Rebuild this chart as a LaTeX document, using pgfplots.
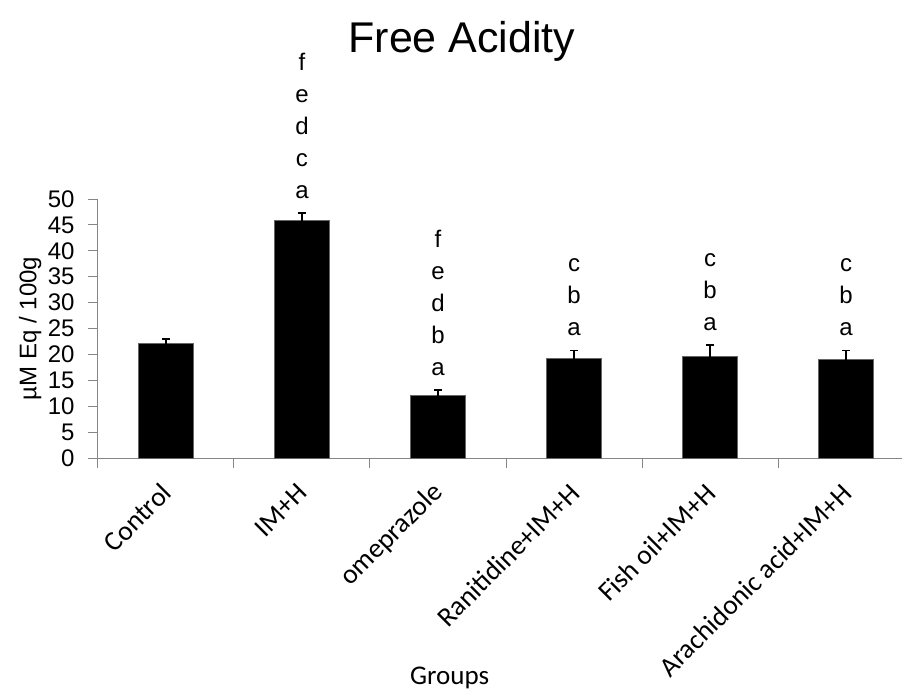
\documentclass[border=0pt]{standalone}
\usepackage{fontspec}
\setmainfont{Liberation Sans}
\newfontfamily\carlito{Carlito}
\usepackage{pgfplots}
\pgfplotsset{compat=1.18}
\definecolor{axgray}{HTML}{868686}
\protected\def\Lim{f\\e\\d\\c\\a}
\protected\def\Lom{f\\e\\d\\b\\a}
\protected\def\Lcba{c\\b\\a}
\begin{document}
\begin{tikzpicture}
\useasboundingbox (-98pt,-233pt) rectangle (804pt,458pt);
\begin{axis}[
  at={(0,0)}, anchor=south west, scale only axis,
  width=816pt, height=259pt,
  xmin=-0.5, xmax=5.5, ymin=0, ymax=50,
  axis lines*=left,
  axis line style={axgray, line width=1pt},
  tick align=outside, major tick length=10pt,
  tick style={axgray, line width=1pt},
  xtick={-0.5,0.5,...,5.5},
  x tick label as interval,
  xticklabels={Control,IM+H,omeprazole,Ranitidine+IM+H,Fish oil+IM+H,Arachidonic acid+IM+H},
  xticklabel style={xshift=3pt, yshift=-18pt, rotate=45, anchor=east, font=\carlito\fontsize{27.5}{30}\selectfont},
  ytick={0,5,...,50},
  yticklabel style={xshift=-10pt, font=\fontsize{24}{28}\selectfont},
  /pgf/number format/assume math mode=true,
  ylabel={µM Eq / 100g},
  every axis y label/.style={at={(axis description cs:-0.0754,0.5)}, rotate=90, anchor=base, font=\fontsize{24}{28}\selectfont},
  xlabel={Groups},
  every axis x label/.style={at={(axis description cs:0.431,0)}, anchor=base, yshift=-226pt, font=\carlito\fontsize{27}{30}\selectfont},
  title={Free Acidity},
  every axis title/.style={at={(axis description cs:0.446,1)}, anchor=base, yshift=147pt, font=\fontsize{43}{50}\selectfont},
]
\addplot[ybar, bar width=0.4, fill=black, draw=black!60, line width=0.8pt,
  error bars/.cd, y dir=both, y explicit,
  error bar style={black, line width=1.5pt},
  error mark options={black, line width=1.5pt, mark size=4pt, rotate=90}]
  coordinates {
  (0,22.2) +- (0,0.8)
  (1,45.8) +- (0,1.5)
  (2,12.0) +- (0,1.1)
  (3,19.2) +- (0,1.6)
  (4,19.6) +- (0,2.2)
  (5,19.1) +- (0,1.7)
  };
\addplot[draw=none, mark=none, nodes near coords, point meta=explicit symbolic,
  every node near coord/.append style={anchor=south, inner sep=0pt, yshift=14pt, align=center, font=\fontsize{24}{32}\selectfont}]
  coordinates {
  (1,47.3) [\Lim]
  (2,13.1) [\Lom]
  (3,20.8) [\Lcba]
  (4,21.8) [\Lcba]
  (5,20.8) [\Lcba]
  };
\end{axis}
\end{tikzpicture}
\end{document}
